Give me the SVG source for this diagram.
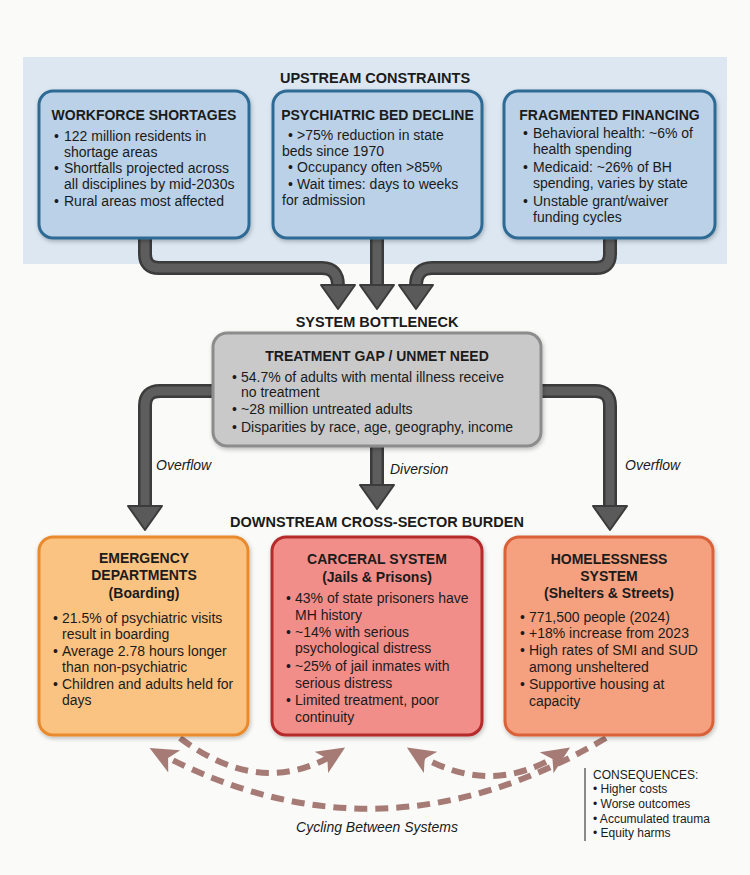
<svg xmlns="http://www.w3.org/2000/svg" width="750" height="875" viewBox="0 0 750 875">
<defs>
<style>
text{font-family:"Liberation Sans",Arial,sans-serif;fill:#1b1b1b}
.h{font-size:14.5px;font-weight:bold;text-anchor:middle}
.t{font-size:14px;font-weight:bold;text-anchor:middle}
.b{font-size:14px}
.i{font-size:14px;font-style:italic}
.c{font-size:12px}
.outer{fill:none;stroke:#3b3b3b;stroke-width:14}
.inner{fill:none;stroke:#5d5d5d;stroke-width:9}
.head{fill:#5a5a5a;stroke:#3b3b3b;stroke-width:2;stroke-linejoin:round}
.dash{fill:none;stroke:#a67b75;stroke-width:6;stroke-dasharray:13 8}
.blue{fill:#bad1e7;stroke:#2e6b93;stroke-width:3}
</style>
<marker id="ah" viewBox="0 0 10 10" refX="7" refY="5" markerWidth="28" markerHeight="28" markerUnits="userSpaceOnUse" orient="auto-start-reverse">
<path d="M0,0.5 L10,5 L0,9.5 L2.5,5 z" fill="#a67b75"/>
</marker>
<filter id="sh" x="-10%" y="-10%" width="120%" height="125%">
<feDropShadow dx="1" dy="2" stdDeviation="2" flood-color="#000" flood-opacity="0.25"/>
</filter>
</defs>
<rect width="750" height="875" fill="#fafaf8"/>
<rect x="23" y="57" width="704" height="207" fill="#dce7f2"/>
<text class="h" x="375" y="83">UPSTREAM CONSTRAINTS</text>
<text class="h" x="377" y="327">SYSTEM BOTTLENECK</text>
<text class="h" x="377" y="527">DOWNSTREAM CROSS-SECTOR BURDEN</text>

<g id="connectors">
<path class="outer" d="M145 236 V254 Q145 268 159 268 H322 Q338 268 338 286"/>
<path class="inner" d="M145 236 V254 Q145 268 159 268 H322 Q338 268 338 286"/>
<polygon class="head" points="321,285 355,285 338,309"/>
<path class="outer" d="M377 236 V286"/>
<path class="inner" d="M377 236 V286"/>
<polygon class="head" points="360,285 394,285 377,309"/>
<path class="outer" d="M610 236 V254 Q610 268 596 268 H432 Q416 268 416 286"/>
<path class="inner" d="M610 236 V254 Q610 268 596 268 H432 Q416 268 416 286"/>
<polygon class="head" points="399,285 433,285 416,309"/>

<path class="outer" d="M220 391 H160 Q145 391 145 406 V507"/>
<path class="inner" d="M220 391 H160 Q145 391 145 406 V507"/>
<polygon class="head" points="128,506 162,506 145,530"/>
<path class="outer" d="M377 445 V486"/>
<path class="inner" d="M377 445 V486"/>
<polygon class="head" points="360,485 394,485 377,509"/>
<path class="outer" d="M535 391 H595 Q610 391 610 406 V507"/>
<path class="inner" d="M535 391 H595 Q610 391 610 406 V507"/>
<polygon class="head" points="593,506 627,506 610,530"/>

<path class="dash" d="M180 738 Q262 800 338 752" marker-end="url(#ah)"/>
<path class="dash" d="M414 752 Q490 800 563 752" marker-start="url(#ah)" marker-end="url(#ah)"/>
<path class="dash" d="M606 738 Q380 872 157 752" marker-end="url(#ah)"/>

<text class="i" x="156" y="470">Overflow</text>
<text class="i" x="390" y="474">Diversion</text>
<text class="i" x="625" y="470">Overflow</text>
<text class="i" x="377" y="832" text-anchor="middle">Cycling Between Systems</text>
</g>

<g id="workforce">
<rect class="blue" x="39" y="91" width="210" height="147" rx="14" filter="url(#sh)"/>
<text class="t" x="144" y="120">WORKFORCE SHORTAGES</text>
<text class="b" x="54" y="141">•</text><text class="b" x="64" y="141">122 million residents in</text>
<text class="b" x="64" y="157">shortage areas</text>
<text class="b" x="54" y="173">•</text><text class="b" x="64" y="173">Shortfalls projected across</text>
<text class="b" x="64" y="189">all disciplines by mid-2030s</text>
<text class="b" x="54" y="206">•</text><text class="b" x="64" y="206">Rural areas most affected</text>
</g>

<g id="psychiatric">
<rect class="blue" x="273" y="91" width="209" height="147" rx="14" filter="url(#sh)"/>
<text class="t" x="377.5" y="120">PSYCHIATRIC BED DECLINE</text>
<text class="b" x="288" y="140">•</text><text class="b" x="297" y="140">&gt;75% reduction in state</text>
<text class="b" x="282" y="156">beds since 1970</text>
<text class="b" x="288" y="172">•</text><text class="b" x="297" y="172">Occupancy often &gt;85%</text>
<text class="b" x="288" y="189">•</text><text class="b" x="297" y="189">Wait times: days to weeks</text>
<text class="b" x="282" y="205">for admission</text>
</g>

<g id="financing">
<rect class="blue" x="504" y="91" width="211" height="147" rx="14" filter="url(#sh)"/>
<text class="t" x="609.5" y="120">FRAGMENTED FINANCING</text>
<text class="b" x="523" y="138">•</text><text class="b" x="533" y="138">Behavioral health: ~6% of</text>
<text class="b" x="533" y="154">health spending</text>
<text class="b" x="523" y="172">•</text><text class="b" x="533" y="172">Medicaid: ~26% of BH</text>
<text class="b" x="533" y="188">spending, varies by state</text>
<text class="b" x="523" y="206">•</text><text class="b" x="533" y="206">Unstable grant/waiver</text>
<text class="b" x="533" y="222">funding cycles</text>
</g>

<g id="treatment-gap">
<rect x="213" y="333" width="328" height="113" rx="14" fill="#c9c9c9" stroke="#8c8c8c" stroke-width="3" filter="url(#sh)"/>
<text class="t" x="377" y="361">TREATMENT GAP / UNMET NEED</text>
<text class="b" x="232" y="382">•</text><text class="b" x="241" y="382">54.7% of adults with mental illness receive</text>
<text class="b" x="241" y="397">no treatment</text>
<text class="b" x="232" y="414">•</text><text class="b" x="241" y="414">~28 million untreated adults</text>
<text class="b" x="232" y="432">•</text><text class="b" x="241" y="432">Disparities by race, age, geography, income</text>
</g>

<g id="emergency">
<rect x="39" y="537" width="209" height="198" rx="14" fill="#fbc381" stroke="#e98a2e" stroke-width="3" filter="url(#sh)"/>
<text class="t" x="144" y="563">EMERGENCY</text>
<text class="t" x="144" y="580">DEPARTMENTS</text>
<text class="t" x="144" y="598">(Boarding)</text>
<text class="b" x="53" y="623">•</text><text class="b" x="62" y="623">21.5% of psychiatric visits</text>
<text class="b" x="62" y="639">result in boarding</text>
<text class="b" x="53" y="656">•</text><text class="b" x="62" y="656">Average 2.78 hours longer</text>
<text class="b" x="62" y="672">than non-psychiatric</text>
<text class="b" x="53" y="689">•</text><text class="b" x="62" y="689">Children and adults held for</text>
<text class="b" x="62" y="705">days</text>
</g>

<g id="carceral">
<rect x="272" y="537" width="210" height="198" rx="14" fill="#f28e89" stroke="#b52a2b" stroke-width="3" filter="url(#sh)"/>
<text class="t" x="377" y="564">CARCERAL SYSTEM</text>
<text class="t" x="377" y="582">(Jails &amp; Prisons)</text>
<text class="b" x="286" y="603">•</text><text class="b" x="295" y="603">43% of state prisoners have</text>
<text class="b" x="295" y="620">MH history</text>
<text class="b" x="286" y="637">•</text><text class="b" x="295" y="637">~14% with serious</text>
<text class="b" x="295" y="653">psychological distress</text>
<text class="b" x="286" y="671">•</text><text class="b" x="295" y="671">~25% of jail inmates with</text>
<text class="b" x="295" y="688">serious distress</text>
<text class="b" x="286" y="705">•</text><text class="b" x="295" y="705">Limited treatment, poor</text>
<text class="b" x="295" y="722">continuity</text>
</g>

<g id="homelessness">
<rect x="505" y="537" width="208" height="198" rx="14" fill="#f5a17f" stroke="#d9623b" stroke-width="3" filter="url(#sh)"/>
<text class="t" x="609" y="564">HOMELESSNESS</text>
<text class="t" x="609" y="581">SYSTEM</text>
<text class="t" x="609" y="598">(Shelters &amp; Streets)</text>
<text class="b" x="520" y="622">•</text><text class="b" x="529" y="622">771,500 people (2024)</text>
<text class="b" x="520" y="638">•</text><text class="b" x="529" y="638">+18% increase from 2023</text>
<text class="b" x="520" y="655">•</text><text class="b" x="529" y="655">High rates of SMI and SUD</text>
<text class="b" x="529" y="672">among unsheltered</text>
<text class="b" x="520" y="689">•</text><text class="b" x="529" y="689">Supportive housing at</text>
<text class="b" x="529" y="706">capacity</text>
</g>

<g id="consequences">
<line x1="585" y1="768" x2="585" y2="841" stroke="#8a8a8a" stroke-width="2"/>
<text class="c" x="593" y="779">CONSEQUENCES:</text>
<text class="c" x="593" y="793">• Higher costs</text>
<text class="c" x="593" y="808">• Worse outcomes</text>
<text class="c" x="593" y="823">• Accumulated trauma</text>
<text class="c" x="593" y="837">• Equity harms</text>
</g>
</svg>
